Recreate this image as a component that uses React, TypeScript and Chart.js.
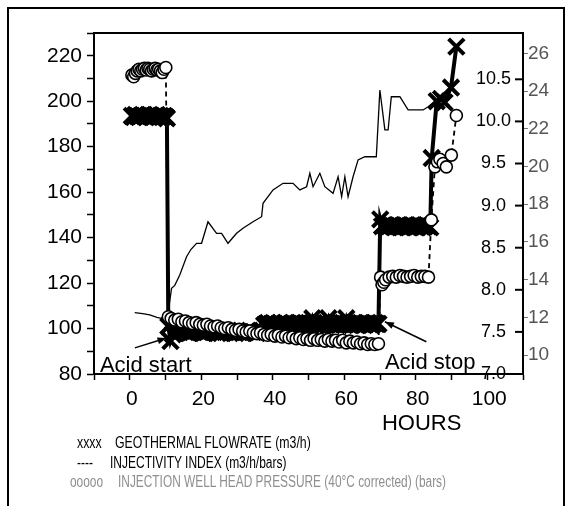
import React, { useEffect, useRef } from 'react';
import { Chart, registerables } from 'chart.js';

Chart.register(...registerables);

// ---------- DATA ----------
// Geothermal flowrate (m3/h), left axis
const flowHours = [
  0, 0.5, 1, 1.5, 2, 2.5, 3, 3.5, 4, 4.5, 5, 5.5, 6, 6.5, 7, 7.5, 8, 8.5, 9, 9.5, 9.8,
  10.2, 10.8, 11.5,
  12, 13, 14, 15, 16, 17, 18, 19, 20, 21, 22, 23, 24, 25, 26, 27, 28, 29, 30, 31, 32, 33, 34, 35, 36,
  37, 37.5, 38, 38.5, 39, 39.5, 40, 40.5,
  41, 41.5, 42, 42.5, 43, 43.5, 44, 44.5,
  45, 45.5, 46, 46.5, 47, 47.5, 48, 48.5,
  49, 49.5, 50, 50.5, 51, 51.5, 52, 52.5,
  53, 53.5, 54, 54.5, 55, 55.5, 56, 56.5,
  57, 57.5, 58, 58.5, 59, 59.5, 60, 60.5,
  61, 61.5, 62, 62.5, 63, 63.5, 64, 64.5,
  65, 65.5, 66, 66.5, 67, 67.5, 68, 68.5,
  69, 69.5,
  70, 70.5, 71, 71.5, 72, 72.5, 73, 73.5, 74, 74.5, 75, 75.5, 76, 76.5,
  77, 77.5, 78, 78.5, 79, 79.5, 80, 80.5, 81, 81.5, 82, 82.5, 83, 83.5,
  83.9, 85.3, 86.5, 87.5, 89.3, 90.8,
];
const flowRate = [
  193.5, 193, 194, 193.5, 193, 193.5, 194, 193.5, 193, 193.5, 194, 193.5, 193, 193.5, 194, 193, 193.5, 193, 193.5, 193, 192.5,
  101, 94.5, 97.5,
  98, 98.5, 99, 98.5, 98, 98.5, 99, 98.5, 98, 98.5, 99, 98.5, 98, 98, 98.5, 99, 98.5, 98, 98.5, 98, 98.5, 99, 98.5, 98, 99,
  101.5, 102, 102.5, 101.5, 102, 102.5, 102, 101.5,
  102, 102.5, 101.5, 102, 102.5, 102, 101.5, 102,
  102.5, 102, 101.5, 102, 102.5, 102, 101.5, 102,
  102, 102.5, 102, 104.5, 102, 101.5, 102, 102.5,
  102, 101.5, 102, 102.5, 104.5, 102, 101.5, 102,
  102.5, 102, 101.5, 102, 102.5, 102, 104.5, 102,
  101.5, 102, 102.5, 102, 101.5, 102, 102.5, 102,
  101.5, 102, 102.5, 102, 101.5, 102, 102.5, 102,
  102, 148,
  145, 145.5, 145, 144.5, 145, 145.5, 145, 144.5, 145, 145.5, 145, 144.5, 145, 145.5,
  145, 144.5, 145, 145.5, 145, 144.5, 145, 145.5, 145, 144.5, 145, 145.5, 145, 144.5,
  175, 200, 201, 199.5, 206, 224,
];

// Injection well head pressure (bars), inner right axis
const pressureHours = [
  0, 0.5, 1, 1.5, 2, 2.5, 3, 3.5, 4, 4.5, 5, 5.5, 6, 6.5, 7, 7.5, 8, 8.5, 9, 9.5,
  10.2,
  11, 12, 13, 14, 15, 16, 17, 18, 19, 20, 21, 22, 23, 24, 25, 26, 27, 28, 29, 30,
  31, 32, 33, 34, 35, 36, 37, 38, 39, 40, 41, 42, 43, 44, 45, 46, 47, 48, 49, 50,
  51, 52, 53, 54, 55, 56, 57, 58, 59, 60, 61, 62, 63, 64, 65, 66, 67, 68, 69,
  69.6, 70, 70.5, 71, 72, 73, 74, 75, 76, 77, 78, 79, 80, 81, 82, 83,
  83.8, 84.8, 85.5, 86.2, 87.1, 88, 89.4, 90.8,
];
const pressure = [
  10.55, 10.53, 10.57, 10.6, 10.62, 10.6, 10.62, 10.63, 10.61, 10.63, 10.62, 10.6, 10.62, 10.63, 10.61, 10.62, 10.6, 10.58, 10.62, 10.64,
  7.68,
  7.66, 7.64, 7.65, 7.62, 7.63, 7.61, 7.6, 7.61, 7.59, 7.58, 7.59, 7.57, 7.56, 7.57, 7.55, 7.54, 7.55, 7.53, 7.52, 7.53,
  7.51, 7.5, 7.51, 7.49, 7.48, 7.49, 7.47, 7.46, 7.47, 7.45, 7.46, 7.44, 7.45, 7.43, 7.44, 7.42, 7.43, 7.41, 7.42, 7.4,
  7.42, 7.4, 7.41, 7.39, 7.41, 7.39, 7.4, 7.38, 7.4, 7.37, 7.39, 7.37, 7.38, 7.36, 7.37, 7.35, 7.36, 7.35, 7.36,
  8.15, 8.06, 8.09, 8.12, 8.15, 8.16, 8.15, 8.17, 8.16, 8.15, 8.16, 8.17, 8.15, 8.16, 8.16, 8.15,
  8.83, 9.46, 9.52, 9.55, 9.5, 9.46, 9.6, 10.07,
];

// Injectivity index (m3/h/bars), outer right axis
const injHours = [
  0.8, 3, 5, 7, 8.3, 9.2, 10, 11.1, 12, 13.4, 15.3, 16.5, 18.1, 19.5, 21.3, 23.7, 25.1, 26.9, 29.3, 31.1,
  33.9, 36.3, 36.7, 39.5, 42.3, 45.1, 47, 48.9, 49.8, 50.7, 52.6, 54, 56.3, 57.7, 58.7, 59.6, 60.5, 61.9,
  63.3, 65.2, 68.4, 69.4, 70.8, 71.7, 72.6, 75, 77.3, 81.5, 82.9, 85.2,
];
const injectivity = [
  12.25, 12.2, 12.13, 12.0, 11.95, 12.1, 12.05, 13.54, 13.7, 14.25, 15.22, 15.6, 15.93, 15.93, 17.07, 16.46, 16.46, 15.93, 16.46, 16.73,
  17.07, 17.34, 18.05, 18.76, 19.11, 19.11, 18.76, 18.93, 19.64, 18.93, 19.64, 18.93, 18.58, 19.46, 18.4, 19.46, 18.4, 19.46,
  20.35, 20.52, 20.52, 24.06, 21.94, 21.94, 23.7, 23.7, 23.0, 23.0, 23.17, 23.53,
];

// axis ranges / tick settings
const hoursRange = [-10.6, 109.45];
const hoursTickLabels = [0, 20, 40, 60, 80, 100];
const flowRange = [80, 230];
const pressureRange = [7, 11.05];
const injRange = [9, 27.08];

// annotations (data coordinates: hours, flowrate)
const acidStartLabel = [-8.95, 80.9];
const acidStartArrow = [[0.84, 91.5], [9.7, 95.8]];
const acidStopLabel = [70.8, 82.2];
const acidStopArrow = [[82.4, 94.2], [70.8, 103]];
const hoursTitleAt = 81.1;

const legendRows = [
  { marker: 'xxxx', text: 'GEOTHERMAL FLOWRATE (m3/h)', color: '#000', mx: 77, tx: 115, top: 435, sx: 0.77 },
  { marker: '----', text: 'INJECTIVITY INDEX (m3/h/bars)', color: '#000', mx: 77, tx: 110, top: 455, sx: 0.75 },
  { marker: 'ooooo', text: 'INJECTION WELL HEAD PRESSURE (40°C corrected) (bars)', color: '#8f8f8f', mx: 70, tx: 118, top: 474, sx: 0.743 },
];

const FONT = '"Liberation Sans", Arial, Helvetica, sans-serif';

function zip(xs: number[], ys: number[]) {
  return xs.map((x, i) => ({ x, y: ys[i] }));
}

function drawArrow(ctx: CanvasRenderingContext2D, x1: number, y1: number, x2: number, y2: number) {
  ctx.beginPath();
  ctx.moveTo(x1, y1);
  ctx.lineTo(x2, y2);
  ctx.stroke();
  const a = Math.atan2(y2 - y1, x2 - x1);
  const L = 9, W = 3.5;
  ctx.beginPath();
  ctx.moveTo(x2, y2);
  ctx.lineTo(x2 - L * Math.cos(a) + W * Math.sin(a), y2 - L * Math.sin(a) - W * Math.cos(a));
  ctx.lineTo(x2 - L * Math.cos(a) - W * Math.sin(a), y2 - L * Math.sin(a) + W * Math.cos(a));
  ctx.closePath();
  ctx.fill();
}

const decorPlugin = {
  id: 'decor',
  afterDraw(chart: any) {
    const { ctx, chartArea: ca, scales } = chart;
    const sx = scales.x, yL = scales.yL, yP = scales.yP;
    ctx.save();
    ctx.strokeStyle = '#000';
    ctx.fillStyle = '#000';
    // top border of the plot box
    ctx.lineWidth = 2;
    ctx.beginPath();
    ctx.moveTo(ca.left - 1, ca.top);
    ctx.lineTo(ca.right + 1, ca.top);
    ctx.stroke();
    // inward ticks of the pressure axis
    ctx.lineWidth = 2;
    yP.ticks.forEach((t: any) => {
      if (t.value > pressureRange[0] + 1e-6 && t.value <= 10.5 + 1e-6) {
        const py = yP.getPixelForValue(t.value);
        ctx.beginPath();
        ctx.moveTo(ca.right - 8, py);
        ctx.lineTo(ca.right, py);
        ctx.stroke();
      }
    });
    // x tick labels, placed by the x scale
    ctx.font = '21px ' + FONT;
    ctx.textAlign = 'center';
    ctx.textBaseline = 'alphabetic';
    hoursTickLabels.forEach((v) => {
      ctx.fillText(String(v), sx.getPixelForValue(v), ca.bottom + 31);
    });
    // annotations
    ctx.font = '22px ' + FONT;
    ctx.textAlign = 'left';
    ctx.fillText('Acid start', sx.getPixelForValue(acidStartLabel[0]), yL.getPixelForValue(acidStartLabel[1]));
    ctx.fillText('Acid stop', sx.getPixelForValue(acidStopLabel[0]), yL.getPixelForValue(acidStopLabel[1]));
    ctx.lineWidth = 1.5;
    [acidStartArrow, acidStopArrow].forEach((ar) => {
      drawArrow(
        ctx,
        sx.getPixelForValue(ar[0][0]), yL.getPixelForValue(ar[0][1]),
        sx.getPixelForValue(ar[1][0]), yL.getPixelForValue(ar[1][1])
      );
    });
    // x axis title
    ctx.textAlign = 'center';
    ctx.fillText('HOURS', sx.getPixelForValue(hoursTitleAt), ca.bottom + 56);
    ctx.restore();
  },
};

export default function App() {
  const ref = useRef<HTMLCanvasElement>(null);

  useEffect(() => {
    if (!ref.current) return;
    const chart = new Chart(ref.current, {
      type: 'line',
      data: {
        datasets: [
          {
            label: 'INJECTION WELL HEAD PRESSURE',
            data: zip(pressureHours, pressure),
            yAxisID: 'yP',
            xAxisID: 'x',
            order: 0,
            borderColor: '#000',
            borderWidth: 1.8,
            borderDash: [5, 4],
            pointStyle: 'circle',
            pointRadius: 6,
            pointBorderWidth: 1.6,
            pointBackgroundColor: '#fff',
            pointBorderColor: '#000',
            tension: 0,
          },
          {
            label: 'INJECTIVITY INDEX',
            data: zip(injHours, injectivity),
            yAxisID: 'yI',
            xAxisID: 'x',
            order: 1,
            borderColor: '#000',
            borderWidth: 1.3,
            pointRadius: 0,
            tension: 0,
          },
          {
            label: 'GEOTHERMAL FLOWRATE',
            data: zip(flowHours, flowRate),
            yAxisID: 'yL',
            xAxisID: 'x',
            order: 2,
            borderColor: '#000',
            borderWidth: 4,
            pointStyle: 'crossRot',
            pointRadius: 11,
            pointBorderWidth: 4,
            pointBackgroundColor: '#000',
            pointBorderColor: '#000',
            tension: 0,
          },
        ],
      },
      options: {
        animation: false,
        responsive: false,
        maintainAspectRatio: false,
        devicePixelRatio: 1,
        events: [],
        layout: { padding: { left: 0, right: 0, top: 33, bottom: 92 } },
        plugins: { legend: { display: false }, tooltip: { enabled: false }, title: { display: false } },
        scales: {
          x: {
            type: 'linear',
            position: 'bottom',
            min: hoursRange[0],
            max: hoursRange[1],
            afterFit: (s: any) => { s.height = 40; },
            border: { display: true, color: '#000', width: 2 },
            grid: { drawOnChartArea: false, drawTicks: true, tickLength: 6, tickColor: '#000', tickWidth: 1.5 },
            ticks: {
              display: false,
              stepSize: 10,
              includeBounds: false,
              autoSkip: false,
              maxRotation: 0,
            },
          },
          yL: {
            type: 'linear',
            position: 'left',
            min: flowRange[0],
            max: flowRange[1],
            afterFit: (s: any) => { s.width = 94; },
            border: { display: true, color: '#000', width: 2 },
            grid: { drawOnChartArea: false, drawTicks: true, tickLength: 7, tickColor: '#000', tickWidth: 1.5 },
            ticks: {
              stepSize: 10,
              includeBounds: false,
              autoSkip: false,
              padding: 5,
              color: '#000',
              font: { family: FONT, size: 21 },
              callback: (v: any) => (Math.abs(Number(v) % 20) < 1e-6 && Number(v) <= 220 ? String(v) : ''),
            },
          },
          yP: {
            type: 'linear',
            position: 'right',
            weight: 0,
            min: pressureRange[0],
            max: pressureRange[1],
            afterFit: (s: any) => { s.width = 0; },
            border: { display: true, color: '#000', width: 2 },
            grid: { drawOnChartArea: false, drawTicks: false },
            ticks: {
              stepSize: 0.5,
              includeBounds: false,
              autoSkip: false,
              mirror: true,
              crossAlign: 'center',
              padding: -12,
              color: '#000',
              font: { family: FONT, size: 18 },
              callback: (v: any) => (Number(v) > 10.5 + 1e-6 ? '' : Number(v).toFixed(1)),
            },
          },
          yI: {
            type: 'linear',
            position: 'right',
            weight: 1,
            min: injRange[0],
            max: injRange[1],
            afterFit: (s: any) => { s.width = 50; },
            border: { display: false },
            grid: { drawOnChartArea: false, drawTicks: true, tickLength: 5, tickColor: '#777', tickWidth: 1 },
            ticks: {
              stepSize: 2,
              includeBounds: false,
              autoSkip: false,
              padding: 0,
              color: '#555',
              font: { family: FONT, size: 19 },
              callback: (v: any) => String(v),
            },
          },
        },
      },
      plugins: [decorPlugin],
    } as any);
    return () => chart.destroy();
  }, []);

  return (
    <div style={{ position: 'fixed', left: 0, top: 0, width: 573, height: 506, background: '#fff', overflow: 'hidden' }}>
      <canvas ref={ref} width={573} height={506} style={{ position: 'absolute', left: 0, top: 0, width: 573, height: 506 }} />
      <div
        style={{
          position: 'absolute', left: 7, top: 7, width: 558, height: 520, boxSizing: 'border-box',
          borderTop: '2px solid #000', borderLeft: '2px solid #000', borderRight: '2px solid #000',
        }}
      />
      {legendRows.map((r, i) => (
        <React.Fragment key={i}>
          <span
            style={{
              position: 'absolute', left: r.mx, top: r.top, fontFamily: FONT, fontSize: 16, lineHeight: '16px',
              color: r.color, whiteSpace: 'nowrap', transform: `scaleX(${r.sx})`, transformOrigin: 'left center',
            }}
          >
            {r.marker}
          </span>
          <span
            style={{
              position: 'absolute', left: r.tx, top: r.top, fontFamily: FONT, fontSize: 16, lineHeight: '16px',
              color: r.color, whiteSpace: 'nowrap', transform: `scaleX(${r.sx})`, transformOrigin: 'left center',
            }}
          >
            {r.text}
          </span>
        </React.Fragment>
      ))}
    </div>
  );
}
